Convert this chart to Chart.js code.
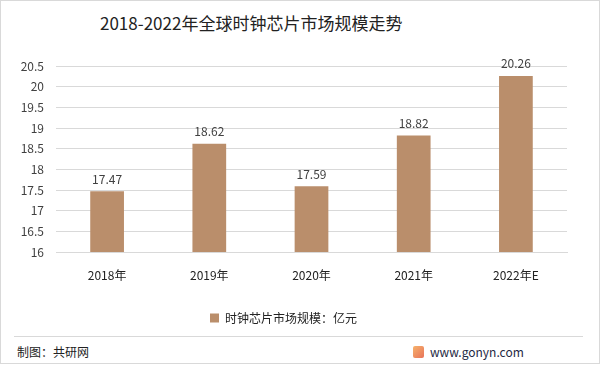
<!DOCTYPE html>
<html>
<head>
<meta charset="utf-8">
<script src="https://cdn.jsdelivr.net/npm/chart.js@4/dist/chart.umd.min.js"></script>
<style>
    body { margin: 0; background: #fff; font-family: "Noto Sans CJK SC", "Noto Sans", sans-serif; }
    #wrap { position: relative; width: 601px; height: 379px; overflow: hidden; }
    #frame { position: absolute; left: 0; top: 0; width: 598px; height: 362px; border: 1px solid #d9d9d9; }
    #title { position: absolute; left: 100px; top: 10px; font-size: 17px; color: #222; white-space: nowrap; }
    #chartBox { position: absolute; left: 0; top: 40px; width: 601px; height: 294px; }
    #sep { position: absolute; left: 14px; top: 336px; width: 569px; height: 1px; background: #d9d9d9; }
    #src { position: absolute; left: 17px; top: 343px; font-size: 12px; color: #222; }
    #site { position: absolute; left: 430px; top: 343px; font-size: 12px; color: #1f2a44; }
    #logo { position: absolute; left: 413px; top: 346px; width: 11px; height: 12px; background: linear-gradient(135deg, #f6b26b, #e8735a); border-radius: 2px; }
</style>
</head>
<body>
<div id="wrap">
    <div id="frame"></div>
    <div id="title">2018-2022年全球时钟芯片市场规模走势</div>
    <div id="chartBox"><canvas id="chart"></canvas></div>
    <div id="sep"></div>
    <div id="src">制图：共研网</div>
    <div id="logo"></div>
    <div id="site">www.gonyn.com</div>
</div>
<script>
const years = ['2018年', '2019年', '2020年', '2021年', '2022年E'];
const marketSize = [17.47, 18.62, 17.59, 18.82, 20.26];
const seriesName = '时钟芯片市场规模：亿元';
const yMin = 16, yMax = 20.5, yStep = 0.5;

const barColor = '#ba8e6b';

// draw value labels above bars
const valueLabels = {
    id: 'valueLabels',
    afterDatasetsDraw(chart) {
        const ctx = chart.ctx;
        const meta = chart.getDatasetMeta(0);
        ctx.save();
        ctx.fillStyle = '#404040';
        ctx.font = '12px "Noto Sans CJK SC", sans-serif';
        ctx.textAlign = 'center';
        ctx.textBaseline = 'bottom';
        meta.data.forEach((bar, i) => {
            ctx.fillText(marketSize[i].toFixed(2), bar.x, bar.y - 6);
        });
        ctx.restore();
    }
};

new Chart(document.getElementById('chart').getContext('2d'), {
    type: 'bar',
    data: {
        labels: years,
        datasets: [{
            label: seriesName,
            data: marketSize,
            backgroundColor: barColor,
            barPercentage: 0.33,
            categoryPercentage: 1
        }]
    },
    options: {
        responsive: true,
        maintainAspectRatio: false,
        animation: false,
        layout: { padding: { left: 0, right: 34, top: 26, bottom: 0 } },
        scales: {
            y: {
                min: yMin,
                max: yMax,
                afterFit: scale => { scale.width = 56; },
                ticks: {
                    stepSize: yStep,
                    padding: 12,
                    color: '#404040',
                    callback: v => String(v),
                    font: { size: 12, family: '"Noto Sans CJK SC", sans-serif' }
                },
                grid: { color: '#d9d9d9', drawTicks: false },
                border: { display: false }
            },
            x: {
                afterFit: scale => { scale.height = 50; },
                ticks: {
                    padding: 16,
                    color: '#222',
                    font: { size: 12, family: '"Noto Sans CJK SC", sans-serif' }
                },
                grid: { display: false, drawTicks: false },
                border: { color: '#d9d9d9' }
            }
        },
        plugins: {
            legend: {
                position: 'bottom',
                labels: {
                    boxWidth: 9,
                    boxHeight: 9,
                    color: '#222',
                    font: { size: 12, family: '"Noto Sans CJK SC", sans-serif' }
                }
            },
            tooltip: { enabled: false }
        }
    },
    plugins: [valueLabels]
});
</script>
</body>
</html>
